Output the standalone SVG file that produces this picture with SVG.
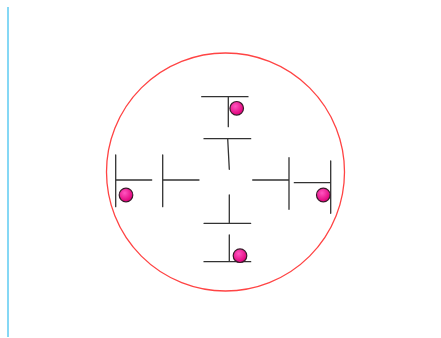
<svg xmlns="http://www.w3.org/2000/svg" width="441" height="338" viewBox="0 0 441 338">
<style>
.ln{stroke:#333;stroke-width:1.3;fill:none;stroke-linecap:round}
.ball{fill:url(#bg);stroke:#3a1a2a;stroke-width:1.2}
</style>
<defs>
<radialGradient id="bg" cx="0.4" cy="0.35" r="0.65">
<stop offset="0" stop-color="#ff55c0"/>
<stop offset="1" stop-color="#e0007a"/>
</radialGradient>
</defs>
<rect width="441" height="338" fill="#fff"/>
<line x1="8" y1="7" x2="8" y2="337" stroke="#5ccbf2" stroke-width="1.5"/>
<circle cx="225.5" cy="172" r="119" fill="none" stroke="#ff4444" stroke-width="1.3"/>
<g id="top-outer">
<path class="ln" d="M201.7 96.7H248M228.3 97V126.7"/>
<circle class="ball" cx="236.7" cy="108.3" r="6.8"/>
</g>
<g id="top-inner">
<path class="ln" d="M204 138.7H250.7M227.7 138.7L229.3 169.3"/>
</g>
<g id="left-outer">
<path class="ln" d="M115.7 155V206.7M115.7 180H151.7"/>
<circle class="ball" cx="126" cy="195" r="6.8"/>
</g>
<g id="left-inner">
<path class="ln" d="M162.7 155V206.7M162.7 180H199"/>
</g>
<g id="right-inner">
<path class="ln" d="M252.7 180H289M289 157.7V209.3"/>
</g>
<g id="right-outer">
<path class="ln" d="M330.7 161V213.3M294.3 182.7H330.7"/>
<circle class="ball" cx="323.3" cy="195" r="6.8"/>
</g>
<g id="bottom-inner">
<path class="ln" d="M229.3 195V223.3M204 223.3H250.7"/>
</g>
<g id="bottom-outer">
<path class="ln" d="M229.3 235V261.7M204 261.7H250.7"/>
<circle class="ball" cx="240" cy="255.7" r="6.8"/>
</g>
</svg>
